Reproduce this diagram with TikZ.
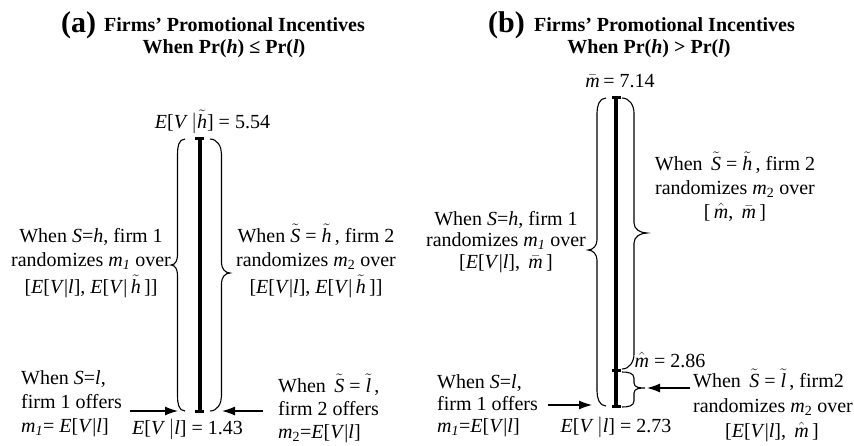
\documentclass[tikz,border=0pt]{standalone}
\usepackage{fontspec}
\setmainfont{Liberation Serif}
\usetikzlibrary{arrows.meta}
\newcommand{\vi}[1]{\textit{#1}}
\newcommand{\tl}[1]{\ensuremath{\tilde{\mbox{\textit{#1}}}}}
\newcommand{\hatm}{\ensuremath{\hat{\mbox{\textit{m}}}}}
\newcommand{\barm}{\ensuremath{\bar{\mbox{\textit{m}}}}}
\newcommand{\EVl}{\vi{E}[\vi{V}|\vi{l}]}
\newcommand{\mybrace}[8]{%
  \draw[bracestyle] (#1,#4) to[out=#7,in=90] (#2,#4-15) -- (#2,#5+10)
    to[out=-90,in=#8] (#3,#5) to[out=#8,in=90] (#2,#5-10) -- (#2,#6+15)
    to[out=-90,in=#7] (#1,#6);}
\tikzset{
  bracestyle/.style={line width=1.1pt},
  barline/.style={line width=4pt},
  barcap/.style={line width=3pt},
  arr/.style={line width=1.2pt,-{Latex[length=13pt,width=9pt]}},
  txt/.style={inner sep=0pt,anchor=base,font=\fontsize{20}{24}\selectfont},
  txtw/.style={txt,anchor=base west},
  ttl/.style={inner sep=0pt,anchor=base west,font=\fontsize{20}{24}\selectfont\bfseries},
  big/.style={inner sep=0pt,anchor=base west,font=\fontsize{30}{30}\selectfont\bfseries},
}
\begin{document}
\begin{tikzpicture}[x=1pt,y=1pt]
\useasboundingbox (0,0) rectangle (854,-445);
% ---------------- panel (a) ----------------
\node[big] (aLab) at (61,-32) {(a)};
\node[ttl] (aT1) at (104,-31) {Firms’ Promotional Incentives};
\node[ttl,anchor=base] (aT2) at (224,-53) {When Pr(\vi{h}) ≤ Pr(\vi{l})};
\node[txt] (aTop) at (212.5,-128) {\vi{E}[\vi{V}\,$\bigg|$\tl{h}] = 5.54};
% bar
\coordinate (aB1) at (199.5,-138);
\coordinate (aB2) at (199.5,-411);
\draw[barline] (aB1) -- (aB2);
\draw[barcap] ([xshift=-4.5pt]aB1) -- ([xshift=4.5pt]aB1);
\draw[barcap] ([xshift=-4.5pt]aB2) -- ([xshift=4.5pt]aB2);
% braces
\mybrace{185}{177.5}{171}{-139}{-265}{-411}{180}{0}
\mybrace{210}{221.5}{230}{-139}{-273}{-411}{0}{180}
% left text
\node[txt] (aL1) at (91,-242) {When \vi{S}=\vi{h}, firm 1};
\node[txt] (aL2) at (91,-266) {randomizes \vi{m}\textsubscript{\vi{1}} over};
\node[txt] (aL3) at (91,-293) {[\EVl, \vi{E}[\vi{V}|\,\tl{h}\,]]};
% right text
\node[txt] (aR1) at (316,-242) {When \tl{S} = \tl{h}\,, firm 2};
\node[txt] (aR2) at (316,-266) {randomizes \vi{m}\textsubscript{2} over};
\node[txt] (aR3) at (316,-293) {[\EVl, \vi{E}[\vi{V}|\,\tl{h}\,]]};
% bottom left
\node[txtw] (aBL1) at (21,-384) {When \vi{S}=\vi{l},};
\node[txtw] (aBL2) at (21,-408) {firm 1 offers};
\node[txtw] (aBL3) at (21,-432) {\vi{m}\textsubscript{\vi{1}}= \EVl};
\coordinate (aA1s) at (130,-411);
\coordinate (aA1e) at (178,-411);
\draw[arr] (aA1s) -- (aA1e);
\node[txt] (aBot) at (187.5,-434) {\vi{E}[\vi{V}\,$\Big|$\vi{l}] = 1.43};
\coordinate (aA2s) at (263,-411);
\coordinate (aA2e) at (222,-411);
\draw[arr] (aA2s) -- (aA2e);
% bottom right
\node[txtw] (aBR1) at (278,-392) {When \,\tl{S} = \tl{l}\,,};
\node[txtw] (aBR2) at (278,-415) {firm 2 offers};
\node[txtw] (aBR3) at (278,-438) {\vi{m}\textsubscript{2}=\EVl};
% ---------------- panel (b) ----------------
\node[big] (bLab) at (488,-32) {(b)};
\node[ttl] (bT1) at (534,-31) {Firms’ Promotional Incentives};
\node[ttl,anchor=base] (bT2) at (649,-53) {When Pr(\vi{h}) > Pr(\vi{l})};
\node[txt] (bTop) at (620,-87) {\barm\,= 7.14};
% bar
\coordinate (bB1) at (616,-97);
\coordinate (bB2) at (616,-406);
\coordinate (bBm) at (616,-370);
\draw[barline] (bB1) -- (bB2);
\draw[barcap] ([xshift=-4.5pt]bB1) -- ([xshift=4.5pt]bB1);
\draw[barcap] ([xshift=-4.5pt]bBm) -- ([xshift=4.5pt]bBm);
\draw[barcap] ([xshift=-4.5pt]bB2) -- ([xshift=4.5pt]bB2);
% braces
\mybrace{606}{597}{588}{-98}{-250}{-406}{180}{0}
\mybrace{622}{634}{647}{-98}{-233}{-369}{0}{180}
\draw[bracestyle] (622,-372) to[out=0,in=90] (634,-378) -- (634,-383)
  to[out=-90,in=180] (645,-388) to[out=180,in=90] (634,-393) -- (634,-401)
  to[out=-90,in=0] (622,-407);
% left text
\node[txt] (bL1) at (506,-225) {When \vi{S}=\vi{h}, firm 1};
\node[txt] (bL2) at (506,-246) {randomizes \vi{m}\textsubscript{\vi{1}} over};
\node[txt] (bL3) at (506,-268) {[\EVl, \,\barm\,]};
% right upper text
\node[txt] (bR1) at (735,-170) {When \,\tl{S} = \tl{h}\,, firm 2};
\node[txt] (bR2) at (735,-194) {randomizes \vi{m}\textsubscript{2} over};
\node[txt] (bR3) at (735,-218) {[\,\hatm, \,\barm\,]};
\node[txt] (bMh) at (670,-367) {\hatm\ = 2.86};
% lower right text
\node[txtw] (bLR1) at (693,-387) {When \,\tl{S} = \tl{l}\,, firm2};
\node[txt] (bLR2) at (773,-412) {randomizes \vi{m}\textsubscript{2} over};
\node[txt] (bLR3) at (772,-437) {[\EVl, \,\hatm\,]};
\coordinate (bA2s) at (690,-388);
\coordinate (bA2e) at (647,-388);
\draw[arr] (bA2s) -- (bA2e);
% bottom left
\node[txtw] (bBL1) at (437,-388) {When \vi{S}=\vi{l},};
\node[txtw] (bBL2) at (437,-410) {firm 1 offers};
\node[txtw] (bBL3) at (437,-432) {\vi{m}\textsubscript{\vi{1}}=\EVl};
\coordinate (bA1s) at (548,-405);
\coordinate (bA1e) at (592,-405);
\draw[arr] (bA1s) -- (bA1e);
\node[txt] (bBot) at (616,-432) {\vi{E}[\vi{V}\,$\Big|$\vi{l}] = 2.73};
\end{tikzpicture}
\end{document}
